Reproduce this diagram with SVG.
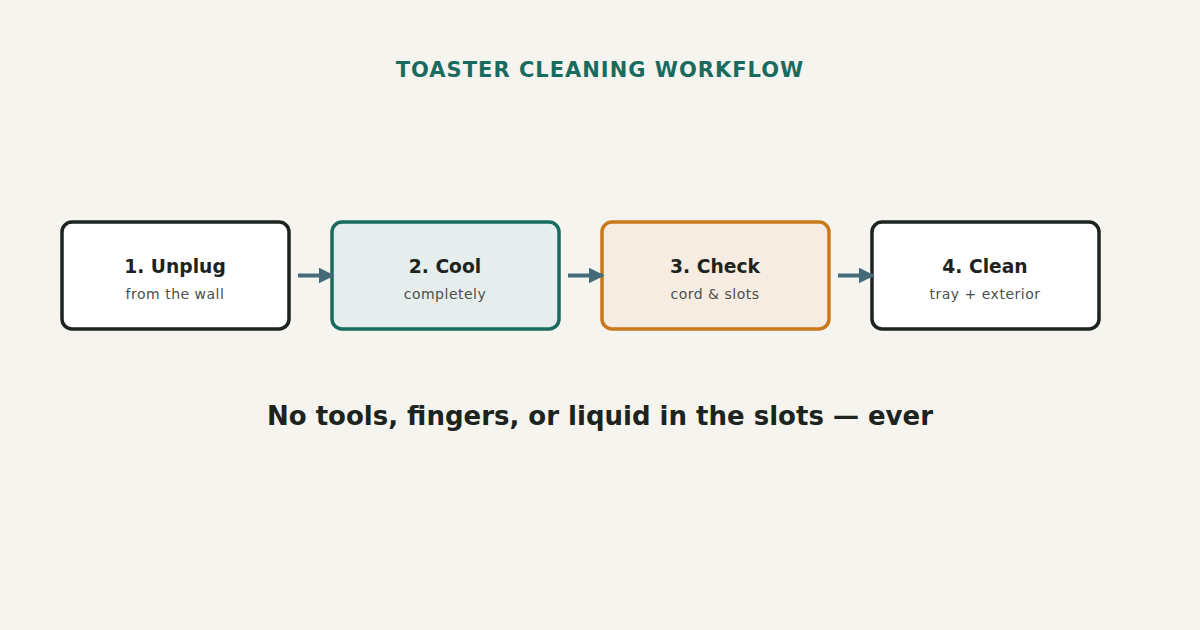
<svg xmlns="http://www.w3.org/2000/svg" width="1200" height="630" viewBox="0 0 1200 630">
<defs>
<pattern id="dots" x="-3" y="-3" width="34" height="34" patternUnits="userSpaceOnUse"><circle cx="34" cy="34" r="1" fill="#e2e0d6"/></pattern>
<marker id="ah" viewBox="0 0 10 10" refX="9" refY="5" markerWidth="4" markerHeight="4" orient="auto"><path d="M0,0 L10,5 L0,10 z" fill="#456a7a"/></marker>
<style>
.t{font-family:"DejaVu Sans",sans-serif;font-weight:bold;font-size:18.7px;fill:#1d2420;text-anchor:middle}
.s{font-family:"DejaVu Sans",sans-serif;font-size:14px;letter-spacing:0.5px;fill:#4a4f4c;text-anchor:middle}
.c{stroke:#456a7a;stroke-width:4;fill:none;marker-end:url(#ah)}
</style>
</defs>
<rect width="1200" height="630" fill="#f5f4ee"/>
<rect width="1200" height="630" fill="url(#dots)"/>
<text x="600" y="77" font-family="DejaVu Sans,sans-serif" font-weight="bold" font-size="21" fill="#1a6b5f" text-anchor="middle" letter-spacing="1">TOASTER CLEANING WORKFLOW</text>
<g id="n1"><rect x="62" y="222" width="227" height="107" rx="10" fill="#ffffff" stroke="#1d2420" stroke-width="3.5"/><text class="t" x="175" y="273">1. Unplug</text><text class="s" x="175" y="299">from the wall</text></g>
<g id="n2"><rect x="332" y="222" width="227" height="107" rx="10" fill="#e5eeec" stroke="#1a6b5f" stroke-width="3.5"/><text class="t" x="445" y="273">2. Cool</text><text class="s" x="445" y="299">completely</text></g>
<g id="n3"><rect x="602" y="222" width="227" height="107" rx="10" fill="#f6ece1" stroke="#c8791b" stroke-width="3.5"/><text class="t" x="715" y="273">3. Check</text><text class="s" x="715" y="299">cord &amp; slots</text></g>
<g id="n4"><rect x="872" y="222" width="227" height="107" rx="10" fill="#ffffff" stroke="#1d2420" stroke-width="3.5"/><text class="t" x="985" y="273">4. Clean</text><text class="s" x="985" y="299">tray + exterior</text></g>
<g id="connectors">
<line class="c" x1="298" y1="275.5" x2="333" y2="275.5"/>
<line class="c" x1="568" y1="275.5" x2="603" y2="275.5"/>
<line class="c" x1="838" y1="275.5" x2="873" y2="275.5"/>
</g>
<text x="600" y="425" font-family="DejaVu Sans,sans-serif" font-weight="bold" font-size="26" fill="#1d2420" text-anchor="middle">No tools, fingers, or liquid in the slots — ever</text>
</svg>
